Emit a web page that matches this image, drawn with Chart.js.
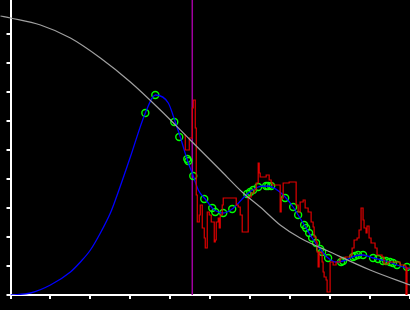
<!DOCTYPE html>
<html>
<head>
<meta charset="utf-8">
<script src="https://cdn.jsdelivr.net/npm/chart.js@4/dist/chart.umd.min.js"></script>
<style>
  html, body { margin: 0; padding: 0; background: #000; }
  #wrap { width: 410px; height: 310px; }
</style>
</head>
<body>
<div id="wrap"><canvas id="chart"></canvas></div>
<script>
// tick positions (no labels are shown)
const xTicks = [0, 40, 80, 120, 160, 200, 240, 280, 320, 360, 400];
const yTicks = [0, 29, 58, 87, 116, 145, 174, 203, 232, 261];

// gray smooth curve
const grayX = [-10, 0, 30, 60, 90, 120, 150, 180, 210, 233, 250, 270, 290, 320, 360, 400];
const grayY = [279, 277, 270, 257, 237, 213, 185, 155, 125, 102, 88, 70, 57, 43, 25, 10];

// blue curve
const blueX = [0, 20, 40, 60, 70, 80, 90, 100, 105, 120, 135, 145, 158, 165, 170, 177, 183, 188, 195, 203, 213, 222, 237, 248, 258, 267, 275, 283, 288, 296, 302, 310, 318, 325, 333, 345, 353, 363, 376, 387, 400];
const blueY = [0, 2, 10, 23, 33, 45, 62, 82, 95, 138, 182, 200, 192, 173, 158, 135, 119, 105, 96, 86, 82, 86, 101, 108, 109, 105, 98, 88, 80, 67, 57, 46, 37, 33, 34, 39, 40, 37, 34, 30, 26];

// green circle markers
const markX = [135, 145, 164, 169, 177, 178, 183, 194, 202, 205, 213, 222, 237, 240, 243, 248, 256, 258, 261, 275, 283, 288, 294, 296, 299, 302, 306, 310, 312, 318, 331, 333, 343, 345, 348, 353, 363, 368, 373, 376, 380, 383, 387, 397];
const markY = [182, 200, 173, 158, 136, 134, 119, 96, 87, 83, 82, 86, 101, 103, 105, 108, 109, 109, 109, 97, 88, 80, 70, 67, 62, 57, 52, 46, 43, 37, 33, 34, 38, 39, 40, 40, 37, 36, 34, 34, 33, 32, 30, 28];

// red noisy series
const redX = [174, 175, 179, 179, 181, 182, 183, 184, 185, 186, 187, 189, 190, 192, 194, 195, 196, 197, 199, 201, 203, 204, 205, 206, 208, 209, 210, 212, 213, 225, 226, 228, 230, 232, 232, 237, 238, 241, 244, 246, 247, 248, 249, 250, 255, 256, 258, 259, 261, 262, 269, 270, 271, 273, 278, 279, 285, 286, 288, 290, 293, 295, 298, 301, 303, 304, 306, 307, 308, 309, 311, 312, 313, 314, 316, 317, 320, 320, 323, 326, 330, 335, 340, 342, 344, 347, 349, 351, 352, 353, 354, 356, 357, 359, 361, 364, 365, 367, 372, 374, 378, 385, 390, 395, 396, 397, 400];
const redY = [160, 145, 145, 157, 157, 187, 195, 195, 167, 100, 73, 80, 90, 67, 57, 47, 47, 83, 80, 73, 73, 53, 55, 73, 77, 67, 80, 90, 97, 97, 90, 88, 80, 78, 63, 63, 98, 102, 105, 112, 112, 132, 122, 118, 118, 120, 120, 115, 112, 110, 110, 83, 97, 112, 112, 113, 113, 90, 83, 93, 95, 87, 83, 73, 68, 58, 53, 43, 28, 43, 42, 33, 23, 18, 15, 3, 3, 33, 30, 33, 37, 38, 40, 47, 55, 57, 65, 87, 87, 75, 67, 62, 69, 57, 52, 52, 47, 40, 38, 31, 33, 33, 30, 29, 0, 27, 27];

// purple marker line
const markerLineX = 182;

const pts = (xs, ys) => xs.map((x, i) => ({ x: x, y: ys[i] }));

const axis = (ticks, min, max) => ({
  type: 'linear',
  min: min,
  max: max,
  afterBuildTicks: s => { s.ticks = ticks.map(v => ({ value: v })); },
  ticks: { display: false },
  grid: { display: true, drawOnChartArea: false, drawTicks: true, tickLength: 4, color: '#fff', lineWidth: 2 },
  border: { display: true, color: '#fff', width: 2 }
});

new Chart(document.getElementById('chart'), {
  type: 'line',
  data: {
    datasets: [
      {
        data: pts(grayX, grayY),
        borderColor: '#a0a0a0',
        borderWidth: 1.2,
        pointRadius: 0,
        cubicInterpolationMode: 'monotone',
        clip: false
      },
      {
        data: pts(redX, redY),
        borderColor: '#e00000',
        borderWidth: 1.2,
        pointRadius: 0,
        stepped: true
      },
      {
        data: pts(blueX, blueY),
        borderColor: '#0000ff',
        borderWidth: 1.3,
        pointRadius: 0,
        cubicInterpolationMode: 'monotone'
      },
      {
        data: pts(markX, markY),
        showLine: false,
        pointRadius: 3.5,
        pointBorderWidth: 1.4,
        pointBorderColor: '#00ff00',
        pointBackgroundColor: 'rgba(0,0,0,0)'
      },
      {
        data: [{ x: markerLineX, y: 0 }, { x: markerLineX, y: 295 }],
        borderColor: '#a000a0',
        borderWidth: 1.5,
        pointRadius: 0
      }
    ]
  },
  options: {
    responsive: true,
    maintainAspectRatio: false,
    animation: false,
    layout: { autoPadding: false, padding: { left: 6.5, right: 0, top: 0, bottom: 11 } },
    plugins: { legend: { display: false }, tooltip: { enabled: false } },
    scales: {
      x: axis(xTicks, 0, 400),
      y: axis(yTicks, 0, 295)
    }
  }
});
</script>
</body>
</html>
